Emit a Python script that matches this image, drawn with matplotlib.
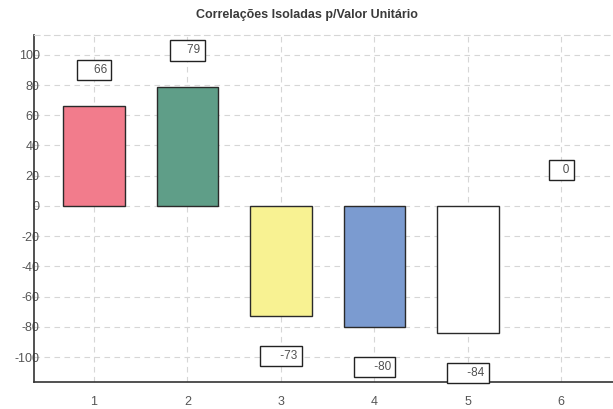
import matplotlib
matplotlib.use("Agg")
import matplotlib.pyplot as plt

# Correlation of each isolated variable with unit value
categories = [1, 2, 3, 4, 5, 6]
values = [66, 79, -73, -80, -84, 0]
bar_colors = ["#F27C8C", "#5F9E88", "#F8F292", "#7B9BD0", "#FFFFFF", "#FFFFFF"]
y_ticks = [-100, -80, -60, -40, -20, 0, 20, 40, 60, 80, 100]
title = "Correlações Isoladas p/Valor Unitário"

plt.rcParams["font.family"] = ["Liberation Sans", "DejaVu Sans"]
plt.rcParams["axes.unicode_minus"] = False

fig = plt.figure(figsize=(6.13, 4.09), dpi=100)
ax = fig.add_axes([0.0555, 0.066, 0.967, 0.848])

ax.set_xlim(0.358, 6.7)
ax.set_ylim(-116.5, 113)

ax.set_axisbelow(True)
ax.grid(True, color="#d6d6d6", linestyle=(0, (5, 4)), linewidth=0.8)

lws = [1.0 if v != 0 else 0 for v in values]
ax.bar(categories, values, width=0.66, color=bar_colors,
       edgecolor="#2a2a2a", linewidth=lws, zorder=2)

# Value boxes: above positive bars, below negative ones
for x, v in zip(categories, values):
    s = str(v)
    label = " " * (len(s) + 2) + s
    if v >= 0:
        off = 26
    else:
        off = -28.8
    ax.annotate(label, xy=(x, v), xytext=(0, off), textcoords="offset points",
                ha="center", va="center", fontsize=8.5, color="#505050",
                bbox=dict(boxstyle="square,pad=0.35", facecolor="white",
                          edgecolor="#222222", linewidth=1.0),
                zorder=3)

ax.set_xticks(categories)
ax.set_yticks(y_ticks)
ax.tick_params(axis="y", length=0, pad=-4, labelsize=9, labelcolor="#555555")
ax.tick_params(axis="x", length=0, pad=10, labelsize=9, labelcolor="#555555")
for lab in ax.get_yticklabels():
    lab.set_zorder(5)

ax.spines["left"].set_color("#333333")
ax.spines["left"].set_linewidth(1.2)
ax.spines["bottom"].set_color("#333333")
ax.spines["bottom"].set_linewidth(1.2)
ax.spines["top"].set_color("#d6d6d6")
ax.spines["top"].set_linestyle((0, (5, 4)))
ax.spines["top"].set_linewidth(0.8)
ax.spines["right"].set_visible(False)

fig.text(0.5, 0.963, title, ha="center", va="center", fontsize=9,
         fontweight="bold", color="#3a3a3a")

fig.savefig("out.png", dpi=100)
